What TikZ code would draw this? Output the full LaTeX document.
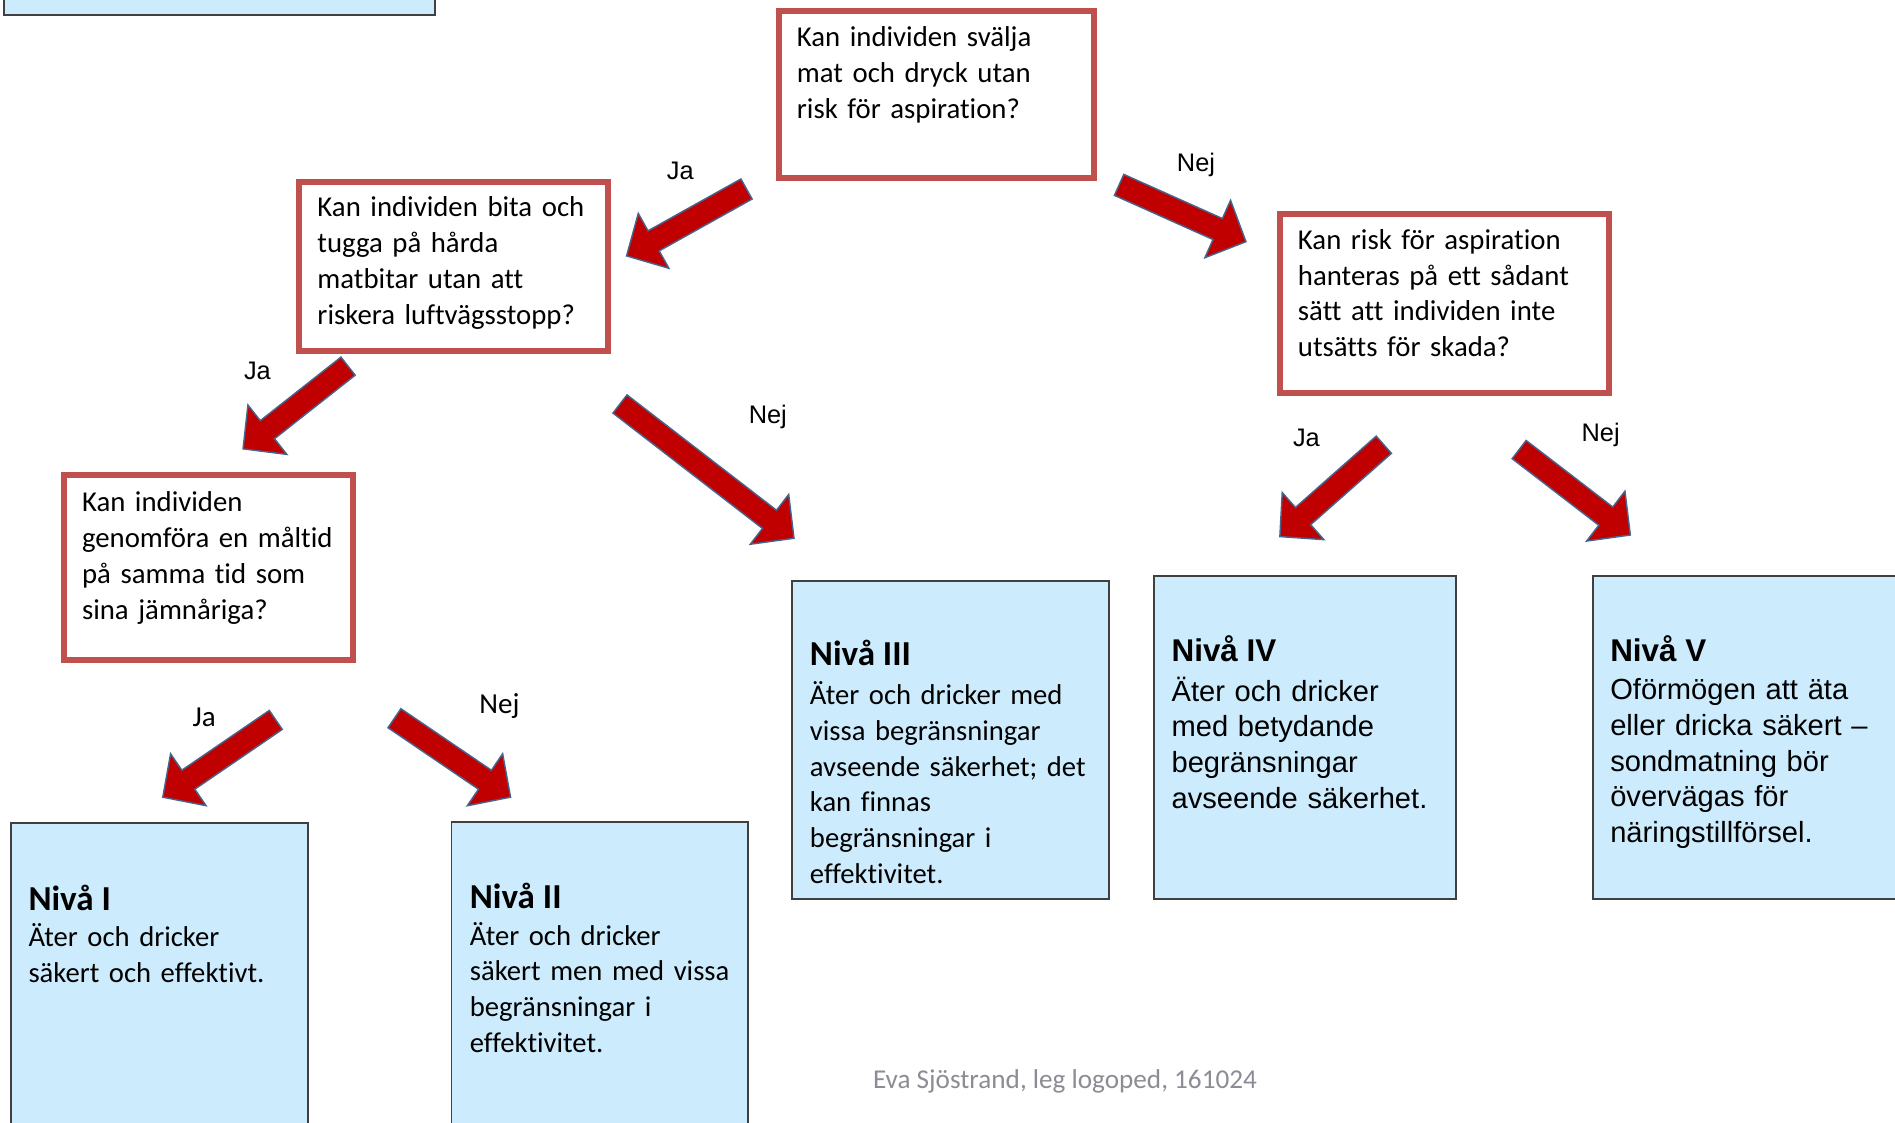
\documentclass[tikz,border=0pt]{standalone}
\usepackage{fontspec}
\setmainfont{Carlito}[Ligatures={NoCommon}]
\newfontfamily\arialfont{Liberation Sans}
\definecolor{qred}{RGB}{192,80,77}
\definecolor{lblue}{RGB}{204,235,252}
\definecolor{arrowred}{RGB}{192,0,0}
\definecolor{arrowedge}{RGB}{70,100,140}
\definecolor{footgray}{RGB}{140,140,148}
\newcommand\myqfont{\fontsize{11.9pt}{14.8pt}\selectfont}
\newcommand\mytitlec{\fontsize{14.5pt}{17pt}\selectfont\bfseries}
\newcommand\mytitlea{\arialfont\fontsize{13pt}{15pt}\selectfont\bfseries}
\newcommand\mybodya{\arialfont\fontsize{12.05pt}{14.75pt}\selectfont}
\newcommand\mybodyc{\fontsize{11.85pt}{14.75pt}\selectfont}
\newcommand\mylabela{\arialfont\fontsize{10.5pt}{12pt}\selectfont}
\newcommand\mylabelc{\fontsize{12pt}{14pt}\selectfont}
\newcommand\myfoot{\fontsize{11.25pt}{13pt}\selectfont}
\newcommand\blockarrow[2]{%
  \pgfpointdiff{\pgfpointanchor{#1}{center}}{\pgfpointanchor{#2}{center}}%
  \pgfgetlastxy{\bax}{\bay}%
  \pgfmathsetmacro\balen{veclen(\bax,\bay)}%
  \pgfmathsetmacro\baang{atan2(\bay,\bax)}%
  \pgfmathsetmacro\babase{\balen-12.8}%
  \begin{scope}[shift={(#1)},rotate=\baang]
    \draw[barrow] (0pt,4.75pt) -- (\babase pt,4.75pt) -- (\babase pt,13pt)
      -- (\balen pt,0pt) -- (\babase pt,-13pt) -- (\babase pt,-4.75pt)
      -- (0pt,-4.75pt) -- cycle;
  \end{scope}}
\tikzset{
  qbox/.style={draw=qred, line width=2.5pt, fill=white, inner sep=0pt},
  lbox/.style={draw=black!75, fill=lblue, line width=0.8pt, inner sep=0pt},
  qtext/.style={anchor=base west, inner sep=0pt, text width=170pt, align=left, font=\myqfont},
  ctitle/.style={anchor=base west, inner sep=0pt, font=\mytitlec},
  atitle/.style={anchor=base west, inner sep=0pt, font=\mytitlea},
  cbody/.style={anchor=base west, inner sep=0pt, text width=170pt, align=left, font=\mybodyc},
  abody/.style={anchor=base west, inner sep=0pt, text width=170pt, align=left, font=\mybodya},
  alabel/.style={anchor=base, inner sep=0pt, font=\mylabela},
  clabel/.style={anchor=base, inner sep=0pt, font=\mylabelc},
  barrow/.style={fill=arrowred, draw=arrowedge, line width=0.6pt, line join=miter}
}
\begin{document}
\begin{tikzpicture}[x=0.5pt,y=-0.5pt]
\useasboundingbox (0,0) rectangle (1568,929);
\clip (0,0) rectangle (1568,929);
\fill[white] (0,0) rectangle (1568,929);

% partial box at top left
\node[lbox, minimum width=178.5pt, minimum height=31.35pt] (top) at (181.5,-18.65) {};

% question boxes
\node[qbox, minimum width=130.15pt, minimum height=69.1pt] (q1) at (774.75,78.2) {};
\node[qtext] (q1t) at (659,38.6) {Kan individen svälja\\mat och dryck utan\\risk för aspiration?};

\node[qbox, minimum width=127.8pt, minimum height=69.9pt] (q2) at (375.2,220.5) {};
\node[qtext] (q2t) at (262.3,179.3) {Kan individen bita och\\tugga på hårda\\matbitar utan att\\riskera luftvägsstopp?};

\node[qbox, minimum width=136pt, minimum height=74pt] (q3) at (1195.5,251) {};
\node[qtext] (q3t) at (1073.6,206.3) {Kan risk för aspiration\\hanteras på ett sådant\\sätt att individen inte\\utsätts för skada?};

\node[qbox, minimum width=119.5pt, minimum height=76.5pt] (q4) at (172.5,469.5) {};
\node[qtext] (q4t) at (67.5,423.4) {Kan individen\\genomföra en måltid\\på samma tid som\\sina jämnåriga?};

% level boxes
\node[lbox, minimum width=122.65pt, minimum height=159.4pt] (n1) at (131.95,840.6) {};
\node[ctitle] (n1h) at (23.2,753) {Nivå I};
\node[cbody] (n1t) at (23.2,783.3) {Äter och dricker\\säkert och effektivt.};

\node[lbox, minimum width=122.65pt, minimum height=160.05pt] (n2) at (496.25,839.95) {};
\node[ctitle] (n2h) at (388.4,751.6) {Nivå II};
\node[cbody] (n2t) at (388.4,782) {Äter och dricker\\säkert men med vissa\\begränsningar i\\effektivitet.};

\node[lbox, minimum width=130.85pt, minimum height=131.5pt] (n3) at (786.45,612) {};
\node[ctitle] (n3h) at (669.8,550.8) {Nivå III};
\node[cbody] (n3t) at (669.8,583.3) {Äter och dricker med\\vissa begränsningar\\avseende säkerhet; det\\kan finnas\\begränsningar i\\effektivitet.};

\node[lbox, minimum width=125.15pt, minimum height=133.6pt] (n4) at (1079.95,609.9) {};
\node[atitle] (n4h) at (969,547.3) {Nivå IV};
\node[abody] (n4t) at (969,580.3) {Äter och dricker\\med betydande\\begränsningar\\avseende säkerhet.};

\node[lbox, minimum width=191.1pt, minimum height=133.75pt] (n5) at (1508.9,610.05) {};
\node[atitle] (n5h) at (1332,547.5) {Nivå V};
\node[abody] (n5t) at (1332,579.2) {Oförmögen att äta\\eller dricka säkert –\\sondmatning bör\\övervägas för\\näringstillförsel.};

% arrow end points
\coordinate (a1s) at (617.7,156.4); \coordinate (a1e) at (518.4,211.8);
\coordinate (a2s) at (926,153);     \coordinate (a2e) at (1031,200);
\coordinate (a3s) at (288,303);     \coordinate (a3e) at (201,371.5);
\coordinate (a4s) at (513,334.3);   \coordinate (a4e) at (657,445.4);
\coordinate (a5s) at (1145,368);    \coordinate (a5e) at (1059,444);
\coordinate (a6s) at (1257,372);    \coordinate (a6e) at (1349,442.7);
\coordinate (a7s) at (228.2,595.7); \coordinate (a7e) at (134.6,659.7);
\coordinate (a8s) at (326.4,594.3); \coordinate (a8e) at (422.6,659.7);

\blockarrow{a1s}{a1e}
\blockarrow{a2s}{a2e}
\blockarrow{a3s}{a3e}
\blockarrow{a4s}{a4e}
\blockarrow{a5s}{a5e}
\blockarrow{a6s}{a6e}
\blockarrow{a7s}{a7e}
\blockarrow{a8s}{a8e}

% labels
\node[alabel] (l1) at (562.9,148.9) {Ja};
\node[alabel] (l2) at (989.6,142) {Nej};
\node[alabel] (l3) at (213,313.9) {Ja};
\node[alabel] (l4) at (635.3,350.3) {Nej};
\node[alabel] (l5) at (1081,369.6) {Ja};
\node[alabel] (l6) at (1324.4,365.4) {Nej};
\node[clabel] (l7) at (169,601.2) {Ja};
\node[clabel] (l8) at (413.3,590.2) {Nej};

% footer
\node[anchor=base, inner sep=0pt, font=\myfoot, text=footgray] (foot) at (881.2,900.5) {Eva Sjöstrand, leg logoped, 161024};
\end{tikzpicture}
\end{document}
